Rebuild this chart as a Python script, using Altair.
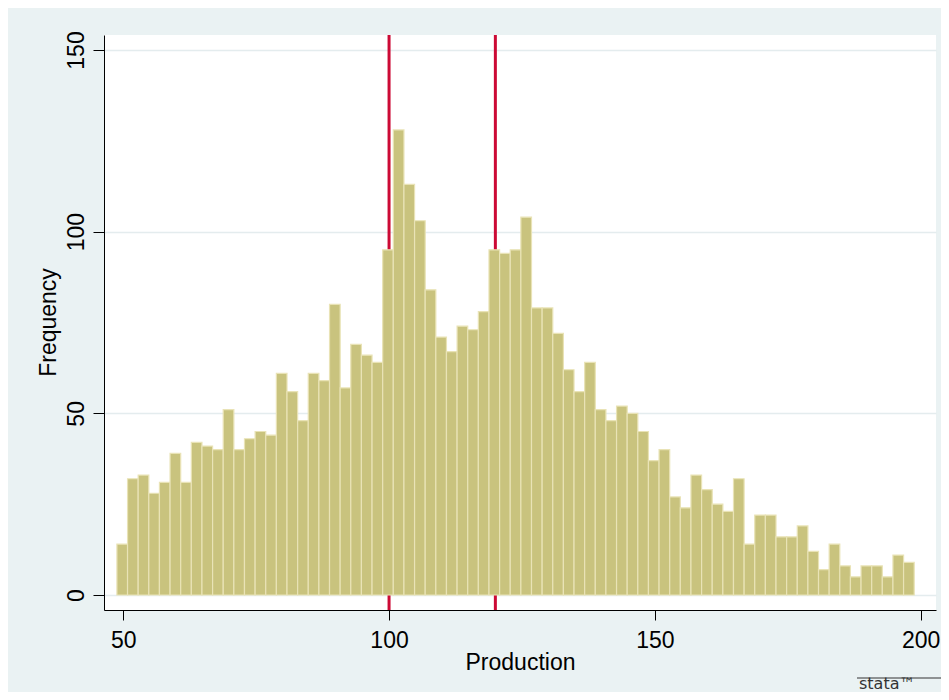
import altair as alt
import pandas as pd

# Histogram of Production, bin width 2 starting at 48.8
bin_start = 48.8
bin_width = 2.0
frequency = [14, 32, 33, 28, 31, 39, 31, 42, 41, 40,
             51, 40, 43, 45, 44, 61, 56, 48, 61, 59,
             80, 57, 69, 66, 64, 95, 128, 113, 103, 84,
             71, 67, 74, 73, 78, 95, 94, 95, 104, 79,
             79, 72, 62, 56, 64, 51, 48, 52, 50, 45,
             37, 40, 27, 24, 33, 29, 25, 23, 32, 14,
             22, 22, 16, 16, 19, 12, 7, 14, 8, 5,
             8, 8, 5, 11, 9]
ref_lines = [100, 120]
x_ticks = [50, 100, 150, 200]
y_ticks = [0, 50, 100, 150]

lo = [bin_start + bin_width * i for i in range(len(frequency))]
bars_df = pd.DataFrame({"lo": lo, "hi": [v + bin_width for v in lo], "freq": frequency})
lines_df = pd.DataFrame({"x": ref_lines})

FONT = "Liberation Sans"
BG = "#EAF2F3"

xscale = alt.Scale(domain=[46.37, 202.9], nice=False, zero=False)
yscale = alt.Scale(domain=[-4.13, 154.13], nice=False, zero=False)

bars = alt.Chart(bars_df).mark_rect(
    color="#C9C37E", stroke="#E9E3B6", strokeWidth=1.2
).encode(
    x=alt.X("lo:Q", scale=xscale, title="Production",
            axis=alt.Axis(values=x_ticks, grid=False, tickSize=10, tickColor="black",
                          domainColor="black", domainWidth=1, tickWidth=1,
                          labelFont=FONT, labelFontSize=23, labelColor="black",
                          labelBaseline="alphabetic", labelPadding=27,
                          titleFont=FONT, titleFontSize=23, titleFontWeight="normal",
                          titleColor="black", titleBaseline="alphabetic",
                          titleY=59, labelFlush=False)),
    x2="hi:Q",
    y=alt.Y("freq:Q", scale=yscale, title="Frequency",
            axis=alt.Axis(values=y_ticks, grid=True, gridColor="#E4ECEE", gridWidth=1.5,
                          tickSize=11, tickColor="black", domainColor="black",
                          domainWidth=1, tickWidth=1,
                          labelFont=FONT, labelFontSize=23, labelColor="black",
                          labelAngle=270, labelAlign="center", labelBaseline="alphabetic",
                          labelPadding=10, labelFlush=False,
                          titleFont=FONT, titleFontSize=23, titleFontWeight="normal",
                          titleColor="black", titleAngle=270, titleBaseline="alphabetic",
                          titleX=-49, titleY=287)),
    y2=alt.datum(0),
)

rules = alt.Chart(lines_df).mark_rule(color="#CC0A35", strokeWidth=3).encode(
    x=alt.X("x:Q", scale=xscale),
)

logo_line = alt.Chart(pd.DataFrame({"a": [0]})).mark_rule(color="#333333", strokeWidth=1).encode(
    x=alt.value(753), x2=alt.value(843), y=alt.value(643)
)
logo_text = alt.Chart(pd.DataFrame({"t": ["stata™"]})).mark_text(
    font="DejaVu Sans", fontSize=16, color="#333333", align="left", baseline="alphabetic"
).encode(
    text="t:N", x=alt.value(755), y=alt.value(654)
)

chart = alt.layer(rules, bars, logo_line, logo_text).properties(
    width=832, height=575,
    background=BG,
    autosize=alt.AutoSizeParams(type="none"),
    padding={"left": 96, "top": 27, "right": 5, "bottom": 82},
).configure_view(stroke=None, fill="white")

chart.save("out.html", embed_options={"renderer": "svg", "actions": False})
